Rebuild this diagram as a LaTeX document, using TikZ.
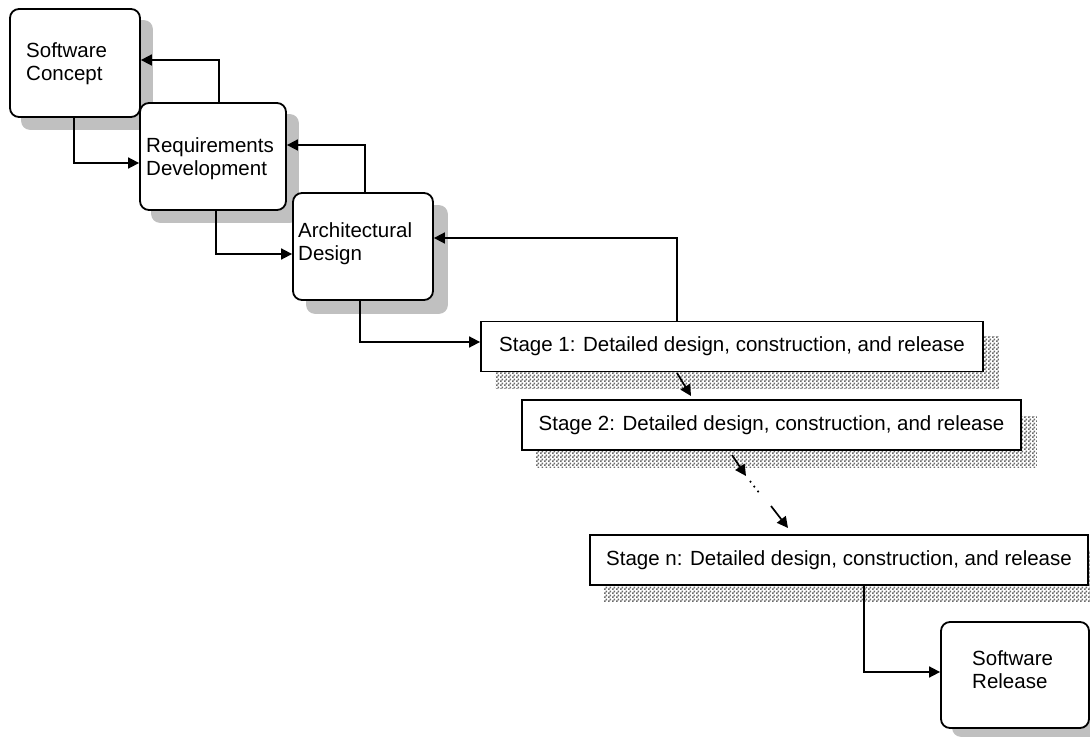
\documentclass[tikz,border=0pt]{standalone}
\usepackage{fontspec}
\setmainfont{Liberation Sans}
\usetikzlibrary{arrows.meta,calc,backgrounds,patterns}
\pgfdeclarepatternformonly{chk}{\pgfpointorigin}{\pgfpoint{4pt}{4pt}}{\pgfpoint{4pt}{4pt}}{%
  \pgfpathrectangle{\pgfpointorigin}{\pgfpoint{2pt}{2pt}}%
  \pgfpathrectangle{\pgfpoint{2pt}{2pt}}{\pgfpoint{2pt}{2pt}}%
  \pgfusepath{fill}}
\definecolor{shd}{RGB}{192,192,192}
\definecolor{hatch}{RGB}{105,105,105}
\begin{document}
\begin{tikzpicture}[x=1pt,y=-1pt,
  rbox/.style={draw, fill=white, line width=1.8pt, rounded corners=9pt, inner sep=0pt},
  sbox/.style={draw, fill=white, line width=1.8pt, inner sep=0pt, minimum height=50pt,
               font=\fontsize{20.5}{23}\selectfont},
  txt/.style={anchor=west, align=left, inner sep=0pt, font=\fontsize{20.5}{23}\selectfont},
  conn/.style={line width=1.7pt, -{Triangle[length=11pt,width=11pt]}},
  rshadow/.style={fill=shd, rounded corners=9pt},
  hshadow/.style={pattern=chk, pattern color=hatch}]
\useasboundingbox (0,0) rectangle (1090,738);
\clip (0,0) rectangle (1090,738);

% rounded boxes
\node[rbox, minimum width=130pt, minimum height=108pt] (sc)   at (75,63) {};
\node[rbox, minimum width=146pt, minimum height=107pt] (req)  at (213,156.5) {};
\node[rbox, minimum width=140pt, minimum height=107pt] (arch) at (363,246.5) {};
\node[rbox, minimum width=148pt, minimum height=106pt] (rel)  at (1015,675) {};

% texts of rounded boxes
\node[txt] (sct)   at (26,64)    {Software\\Concept};
\node[txt] (reqt)  at (146,158.5) {Requirements\\Development};
\node[txt] (archt) at (298,244)  {Architectural\\Design};
\node[txt] (relt)  at (972,670)  {Software\\Release};

% stage boxes
\node[sbox, minimum width=502pt] (s1) at (732,346.5) {Stage 1: Detailed design, construction, and release};
\node[sbox, minimum width=499pt] (s2) at (771.5,425) {Stage 2: Detailed design, construction, and release};
\node[sbox, minimum width=498pt] (sn) at (839,560)   {Stage n: Detailed design, construction, and release};

% shadows
\begin{scope}[on background layer]
  \clip (0,0) rectangle (1090,738);
  \fill[rshadow] ($(sc.north west)+(12,12)$) rectangle ($(sc.south east)+(12,12)$);
  \fill[rshadow] ($(req.north west)+(12,12)$) rectangle ($(req.south east)+(12,12)$);
  \fill[rshadow] ($(arch.north west)+(14,13)$) rectangle ($(arch.south east)+(14,13)$);
  \fill[rshadow] ($(rel.north west)+(12,8)$) rectangle ($(rel.south east)+(12,8)$);
  \fill[hshadow] ($(s1.north west)+(15,16)$) rectangle ($(s1.south east)+(15,16)$);
  \fill[hshadow] ($(s2.north west)+(15,17)$) rectangle ($(s2.south east)+(15,17)$);
  \fill[hshadow] ($(sn.north west)+(15,16)$) rectangle ($(sn.south east)+(15,16)$);
\end{scope}

% connectors between rounded boxes and stages
\draw[conn] ($(sc.south)+(-1,0)$) |- ($(req.west)+(0,6.5)$);
\draw[conn] ($(req.north)+(6,0)$) |- ($(sc.east)+(0,-3)$);
\draw[conn] ($(req.south)+(3,0)$) |- ($(arch.west)+(0,7.5)$);
\draw[conn] ($(arch.north)+(2,0)$) |- ($(req.east)+(0,-11.5)$);
\draw[conn] ($(arch.south)+(-3,0)$) |- ($(s1.west)+(0,-4.5)$);
\draw[conn] ($(s1.north)+(-55,0)$) |- ($(arch.east)+(0,-8.5)$);
\draw[conn] ($(sn.south)+(25,0)$) |- ($(rel.west)+(0,-3)$);

% stage-to-stage arrows
\coordinate (a1s) at (677,373);
\coordinate (a1e) at (691,396);
\coordinate (a2s) at (732,455);
\coordinate (a2e) at (746,476);
\coordinate (d1) at (750,481);
\coordinate (d2) at (760,494);
\coordinate (a3s) at (771,506);
\coordinate (a3e) at (788,528);
\draw[conn] (a1s) -- (a1e);
\draw[conn] (a2s) -- (a2e);
\draw[line width=1.7pt, dash pattern=on 1.7pt off 4.5pt] (d1) -- (d2);
\draw[conn] (a3s) -- (a3e);
\end{tikzpicture}
\end{document}
